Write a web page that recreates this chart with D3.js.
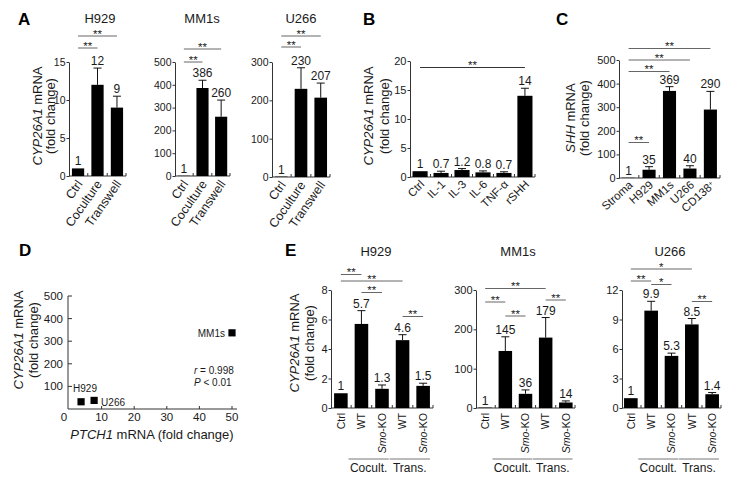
<!DOCTYPE html>
<html><head><meta charset="utf-8">
<script src="https://cdn.jsdelivr.net/npm/d3@7"></script>
<style>body{margin:0;background:#fff}svg{display:block}</style>
</head><body>
<svg id="chart" width="741" height="486"></svg>
<script>
// ---------------- DATA ----------------
// Panel A
const aCategories = ["Ctrl", "Coculture", "Transwell"];
const aH929 = [1, 12, 9];
const aH929Err = [0, 2.2, 1.5];
const aH929Labels = ["1", "12", "9"];
const aH929Ticks = [0, 5, 10, 15];
const aMM1s = [1, 386, 260];
const aMM1sErr = [0, 34, 73];
const aMM1sLabels = ["1", "386", "260"];
const aMM1sTicks = [0, 100, 200, 300, 400, 500];
const aU266 = [1, 230, 207];
const aU266Err = [0, 55, 38];
const aU266Labels = ["1", "230", "207"];
const aU266Ticks = [0, 100, 200, 300];
// Panel B
const bCategories = ["Ctrl", "IL-1", "IL-3", "IL-6", "TNF-α", "rSHH"];
const bValues = [1, 0.7, 1.2, 0.8, 0.7, 14];
const bErr = [0, 0.3, 0.25, 0.25, 0.2, 1.3];
const bLabels = ["1", "0.7", "1.2", "0.8", "0.7", "14"];
const bTicks = [0, 5, 10, 15, 20];
// Panel C
const cCategories = ["Stroma", "H929", "MM1s", "U266", "CD138"];
const cValues = [1, 35, 369, 40, 290];
const cErr = [0, 13, 18, 12, 77];
const cLabels = ["1", "35", "369", "40", "290"];
const cTicks = [0, 100, 200, 300, 400, 500];
// Panel D
const dNames = ["H929", "U266", "MM1s"];
const dPTCH1 = [3.7, 7.7, 50];
const dCYP26A1 = [32, 38, 337];
const dXTicks = [0, 10, 20, 30, 40, 50];
const dYTicks = [100, 200, 300, 400, 500];
// Panel E
const eCategories = ["Ctrl", "WT", "Smo-KO", "WT", "Smo-KO"];
const eGroups = ["Cocult.", "Trans."];
const eH929 = [1, 5.7, 1.3, 4.6, 1.5];
const eH929Err = [0, 0.9, 0.26, 0.37, 0.18];
const eH929Labels = ["1", "5.7", "1.3", "4.6", "1.5"];
const eH929Ticks = [0, 2, 4, 6, 8];
const eMM1s = [1, 145, 36, 179, 14];
const eMM1sErr = [0, 36, 10, 51, 4];
const eMM1sLabels = ["1", "145", "36", "179", "14"];
const eMM1sTicks = [0, 100, 200, 300];
const eU266 = [1, 9.9, 5.3, 8.5, 1.4];
const eU266Err = [0, 0.95, 0.28, 0.6, 0.17];
const eU266Labels = ["1", "9.9", "5.3", "8.5", "1.4"];
const eU266Ticks = [0, 3, 6, 9, 12];

// ---------------- HELPERS ----------------
const FONT = '"Liberation Sans", Arial, Helvetica, sans-serif';
const svg = d3.select("#chart").attr("font-family", FONT);
const INK = "#1a1a1a";

function addText(parent, x, y, parts, o = {}) {
  const t = parent.append("text").attr("x", x).attr("y", y)
    .attr("font-size", o.size || 12).attr("fill", o.fill || INK)
    .attr("text-anchor", o.anchor || "start");
  if (o.weight) t.attr("font-weight", o.weight);
  if (o.transform) t.attr("transform", o.transform);
  if (o.dy) t.attr("dy", o.dy);
  const arr = typeof parts === "string" ? [[parts]] : parts;
  arr.forEach(([s, it, sup]) => {
    const ts = t.append("tspan").text(s);
    if (it) ts.attr("font-style", "italic");
    if (sup) ts.attr("baseline-shift", "super").attr("font-size", "60%");
  });
  return t;
}

function yLabel(cx1, cx2, cy, italicPart, rest, size = 13) {
  addText(svg, 0, 0, [[italicPart, true], [rest]], {size, anchor: "middle", dy: "0.35em",
    transform: `translate(${cx1},${cy}) rotate(-90)`});
  addText(svg, 0, 0, "(fold change)", {size, anchor: "middle", dy: "0.35em",
    transform: `translate(${cx2},${cy}) rotate(-90)`});
}

function barPanel(cfg) {
  const n = cfg.vals.length;
  const g = svg.append("g");
  const x = d3.scaleBand().domain(d3.range(n)).range([cfg.x0, cfg.x1])
    .paddingInner(cfg.pIn).paddingOuter(cfg.pOut);
  const y = d3.scaleLinear().domain([0, cfg.max]).range([cfg.yB, cfg.yT]);
  const bw = x.bandwidth(), step = x.step();
  const cx = i => x(i) + bw / 2;

  // y axis
  const ax = g.append("g").attr("transform", `translate(${cfg.x0},0)`)
    .call(d3.axisLeft(y).tickValues(cfg.ticks).tickSize(2.5).tickSizeOuter(0).tickPadding(1));
  ax.attr("font-family", FONT).attr("font-size", cfg.tickSize || 11);
  ax.selectAll("path,line").attr("stroke", "#333");
  ax.selectAll("text").attr("fill", INK);

  // x axis line + boundary ticks
  g.append("line").attr("x1", cfg.x0).attr("x2", cfg.x1).attr("y1", y(0)).attr("y2", y(0))
    .attr("stroke", "#333");
  const bounds = d3.range(1, n).map(i => x(i) - (step - bw) / 2).concat([cfg.x1]);
  g.selectAll(".bt").data(bounds).join("line")
    .attr("x1", d => d).attr("x2", d => d).attr("y1", y(0)).attr("y2", y(0) - 3)
    .attr("stroke", "#333");

  // error bars
  cfg.vals.forEach((v, i) => {
    const e = cfg.errs[i];
    if (e > 0) {
      g.append("line").attr("x1", cx(i)).attr("x2", cx(i)).attr("y1", y(v)).attr("y2", y(v + e))
        .attr("stroke", "#111");
      g.append("line").attr("x1", cx(i) - 4).attr("x2", cx(i) + 4).attr("y1", y(v + e)).attr("y2", y(v + e))
        .attr("stroke", "#111");
    }
  });
  // bars
  g.selectAll(".bar").data(cfg.vals).join("rect")
    .attr("x", (d, i) => x(i)).attr("width", bw)
    .attr("y", d => y(d)).attr("height", d => y(0) - y(d)).attr("fill", "#000");
  // value labels
  cfg.vals.forEach((v, i) => {
    addText(g, cx(i), y(v + cfg.errs[i]) - 3, cfg.labels[i], {size: cfg.valSize || 12, anchor: "middle"});
  });
  // significance
  (cfg.sig || []).forEach(s => {
    g.append("line").attr("x1", cx(s.a)).attr("x2", cx(s.b)).attr("y1", s.y).attr("y2", s.y)
      .attr("stroke", cfg.sigColor || "#666");
    addText(g, (cx(s.a) + cx(s.b)) / 2, s.y + 1.5, s.t, {size: 11.5, anchor: "middle"});
  });
  // x labels
  cfg.cats.forEach((c, i) => {
    if (cfg.rot === -90) {
      const parts = c === "Smo-KO" ? [["Smo", true], ["-KO"]] : [[c]];
      addText(g, 0, 0, parts, {size: cfg.catSize || 11, anchor: "end", dy: "0.35em",
        transform: `translate(${cx(i)},${y(0) + 5}) rotate(-90)`});
    } else {
      const parts = c === "CD138" ? [["CD138"], ["+", false, true]] : [[c]];
      addText(g, 0, 0, parts, {size: cfg.catSize || 12, anchor: "end",
        transform: `translate(${cx(i) + cfg.labDx},${y(0) + cfg.labDy}) rotate(${cfg.rot})`});
    }
  });
  // groups
  (cfg.groups || []).forEach(gr => {
    const gx1 = x(gr.a) - 0.3 * step, gx2 = x(gr.b) + bw;
    g.append("line").attr("x1", gx1).attr("x2", gx2).attr("y1", cfg.groupY).attr("y2", cfg.groupY)
      .attr("stroke", "#777");
    addText(g, (gx1 + gx2) / 2, cfg.groupY + 13, gr.label, {size: 12, anchor: "middle"});
  });
  // title
  if (cfg.title) addText(g, cfg.titleX, cfg.titleY, cfg.title, {size: 13, anchor: "middle"});
  return {x, y};
}

// ---------------- PANEL LETTERS ----------------
[["A", 18, 25], ["B", 363, 25], ["C", 556, 25], ["D", 19, 256], ["E", 285, 256]].forEach(([l, lx, ly]) =>
  addText(svg, lx, ly, l, {size: 17, weight: "bold", fill: "#000"}));

// ---------------- PANEL A ----------------
yLabel(37.5, 50.5, 116, "CYP26A1", " mRNA");
barPanel({cats: aCategories, vals: aH929, errs: aH929Err, labels: aH929Labels, ticks: aH929Ticks, max: 15,
  x0: 69, x1: 126, yB: 176, yT: 62, pIn: 0.37, pOut: 0.15, rot: -55, labDx: 5, labDy: 8, catSize: 12.5,
  tickSize: 10.5, title: "H929", titleX: 100, titleY: 23,
  sig: [{a: 0, b: 1, y: 48, t: "**"}, {a: 0, b: 2, y: 36, t: "**"}]});
barPanel({cats: aCategories, vals: aMM1s, errs: aMM1sErr, labels: aMM1sLabels, ticks: aMM1sTicks, max: 500,
  x0: 175, x1: 230, yB: 176, yT: 62, pIn: 0.35, pOut: 0.15, rot: -55, labDx: 5, labDy: 8, catSize: 12.5,
  tickSize: 10.5, title: "MM1s", titleX: 202, titleY: 23,
  sig: [{a: 0, b: 1, y: 62, t: "**"}, {a: 0, b: 2, y: 49, t: "**"}]});
barPanel({cats: aCategories, vals: aU266, errs: aU266Err, labels: aU266Labels, ticks: aU266Ticks, max: 300,
  x0: 272, x1: 330, yB: 177, yT: 62, pIn: 0.36, pOut: 0.15, rot: -55, labDx: 5, labDy: 8, catSize: 12.5,
  tickSize: 10.5, title: "U266", titleX: 301, titleY: 23,
  sig: [{a: 0, b: 1, y: 47, t: "**"}, {a: 0, b: 2, y: 36, t: "**"}]});

// ---------------- PANEL B ----------------
yLabel(368, 384, 116, "CYP26A1", " mRNA");
barPanel({cats: bCategories, vals: bValues, errs: bErr, labels: bLabels, ticks: bTicks, max: 20,
  x0: 410, x1: 535, yB: 177, yT: 61, pIn: 0.28, pOut: 0.12, rot: -45, labDx: 5, labDy: 8, catSize: 11.5,
  sigColor: "#333", sig: [{a: 0, b: 5, y: 67.5, t: "**"}]});

// ---------------- PANEL C ----------------
yLabel(570, 584, 118, "SHH", " mRNA");
barPanel({cats: cCategories, vals: cValues, errs: cErr, labels: cLabels, ticks: cTicks, max: 500,
  x0: 619, x1: 720, yB: 178, yT: 60, pIn: 0.36, pOut: 0.15, rot: -42, labDx: 5, labDy: 8, catSize: 11.5,
  sig: [{a: 0, b: 1, y: 142.5, t: "**"}, {a: 0, b: 2, y: 71.5, t: "**"}, {a: 0, b: 3, y: 60, t: "**"}, {a: 0, b: 4, y: 48.5, t: "**"}]});

// ---------------- PANEL D ----------------
(function () {
  const g = svg.append("g");
  const x = d3.scaleLinear().domain([0, 50]).range([69, 232]);
  const y = d3.scaleLinear().domain([0, 500]).range([409, 296]);
  g.append("line").attr("x1", 68).attr("x2", 68).attr("y1", y(500)).attr("y2", y(0)).attr("stroke", "#333");
  g.append("line").attr("x1", 68).attr("x2", 237).attr("y1", y(0)).attr("y2", y(0)).attr("stroke", "#333");
  dYTicks.forEach(t => {
    g.append("line").attr("x1", 68).attr("x2", 72).attr("y1", y(t)).attr("y2", y(t)).attr("stroke", "#333");
    addText(g, 63, y(t), String(t), {size: 11.5, anchor: "end", dy: "0.35em"});
  });
  dXTicks.forEach(t => {
    if (t > 0) g.append("line").attr("x1", x(t)).attr("x2", x(t)).attr("y1", y(0)).attr("y2", y(0) - 3).attr("stroke", "#333");
    addText(g, x(t) + (t === 0 ? -5 : 0), y(0) + 12, String(t), {size: 11.5, anchor: "middle"});
  });
  const lab = {H929: [-8, -10, "start"], U266: [7, 6, "start"], MM1s: [-7, 4, "end"]};
  dNames.forEach((nm, i) => {
    const px = x(dPTCH1[i]), py = y(dCYP26A1[i]);
    g.append("rect").attr("x", px - 3.6).attr("y", py - 3.6).attr("width", 7.2).attr("height", 7.2).attr("fill", "#000");
    addText(g, px + lab[nm][0], py + lab[nm][1], nm, {size: 10, anchor: lab[nm][2]});
  });
  addText(g, 194, 374, [["r", true], [" = 0.998"]], {size: 10});
  addText(g, 194, 386, [["P", true], [" < 0.01"]], {size: 10});
  addText(g, 152, 439, [["PTCH1", true], [" mRNA (fold change)"]], {size: 13, anchor: "middle"});
  yLabel(18, 33, 340, "CYP26A1", " mRNA");
})();

// ---------------- PANEL E ----------------
yLabel(294, 309, 343, "CYP26A1", " mRNA");
const eGroupDefs = [{a: 1, b: 2, label: eGroups[0]}, {a: 3, b: 4, label: eGroups[1]}];
barPanel({cats: eCategories, vals: eH929, errs: eH929Err, labels: eH929Labels, ticks: eH929Ticks, max: 8,
  x0: 331, x1: 433, yB: 408, yT: 290, pIn: 0.34, pOut: 0.15, rot: -90, catSize: 10.5,
  title: "H929", titleX: 376, titleY: 256, groups: eGroupDefs, groupY: 459,
  sig: [{a: 0, b: 1, y: 274.5, t: "**"}, {a: 0, b: 3, y: 281, t: "**"}, {a: 1, b: 2, y: 292.5, t: "**"}, {a: 3, b: 4, y: 316.5, t: "**"}]});
barPanel({cats: eCategories, vals: eMM1s, errs: eMM1sErr, labels: eMM1sLabels, ticks: eMM1sTicks, max: 300,
  x0: 476, x1: 575, yB: 408, yT: 290, pIn: 0.33, pOut: 0.12, rot: -90, catSize: 10.5,
  title: "MM1s", titleX: 518, titleY: 256, groups: eGroupDefs, groupY: 459,
  sig: [{a: 0, b: 1, y: 302, t: "**"}, {a: 0, b: 3, y: 288.5, t: "**"}, {a: 1, b: 2, y: 316, t: "**"}, {a: 3, b: 4, y: 300, t: "**"}]});
barPanel({cats: eCategories, vals: eU266, errs: eU266Err, labels: eU266Labels, ticks: eU266Ticks, max: 12,
  x0: 622, x1: 721, yB: 408, yT: 290, pIn: 0.33, pOut: 0.1, rot: -90, catSize: 10.5,
  title: "U266", titleX: 670, titleY: 256, groups: eGroupDefs, groupY: 459,
  sig: [{a: 0, b: 1, y: 281, t: "**"}, {a: 0, b: 3, y: 269, t: "*"}, {a: 1, b: 2, y: 284.5, t: "*"}, {a: 3, b: 4, y: 301.5, t: "**"}]});
</script>
</body></html>
